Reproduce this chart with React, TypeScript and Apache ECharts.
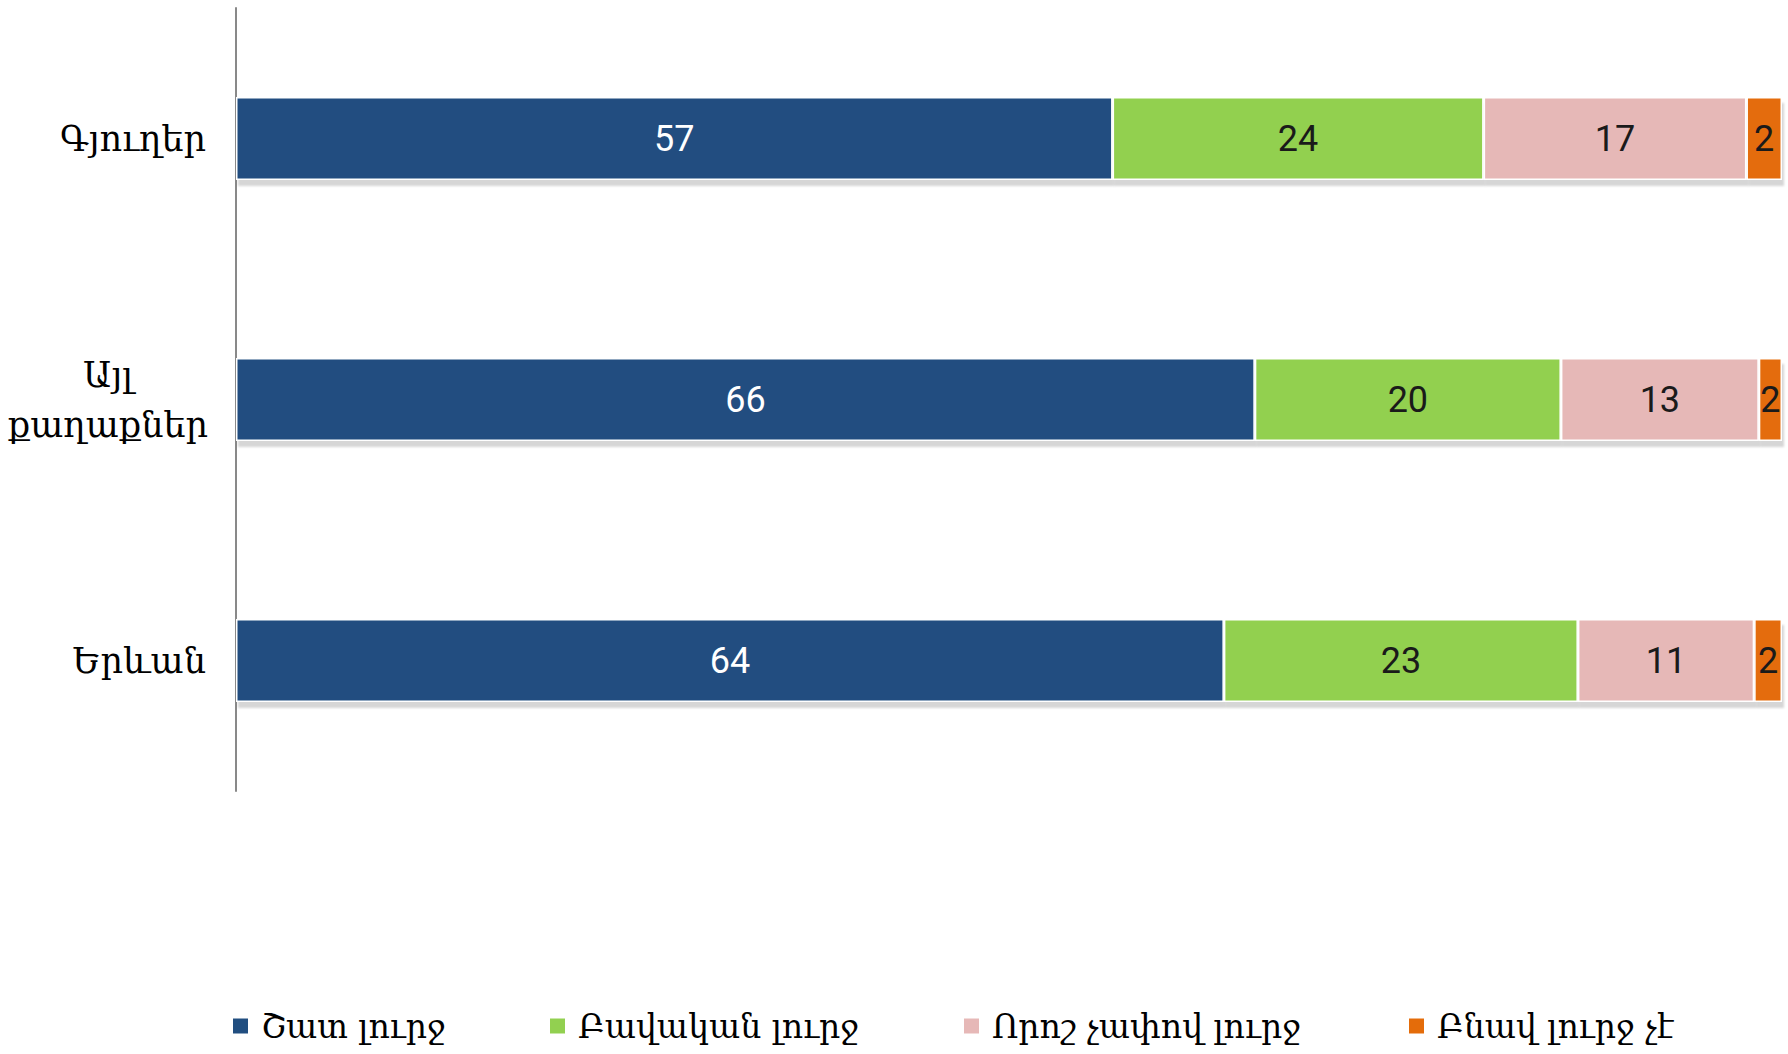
import React, { useEffect, useRef } from "react";
import * as echarts from "echarts";

const categories = ["Երևան", "Այլ\nքաղաքներ", "Գյուղեր"];
const seriesNames = ["Շատ լուրջ", "Բավական լուրջ", "Որոշ չափով լուրջ", "Բնավ լուրջ չէ"];
const veryMuch = [63.9, 65.9, 56.7];
const quite = [22.9, 19.8, 24.0];
const somewhat = [11.4, 12.8, 17.0];
const notAtAll = [1.8, 1.5, 2.3];
const colors = ["#214E80", "#92D050", "#E6B8B7", "#E46C0A"];
const labelColors = ["#ffffff", "#1a1a1a", "#1a1a1a", "#1a1a1a"];
const legendLeft = [231, 548, 962, 1407];

export default function App() {
  const ref = useRef<HTMLDivElement>(null);
  useEffect(() => {
    if (!ref.current) return;
    const chart = echarts.init(ref.current, undefined, { renderer: "svg" });
    const values = [veryMuch, quite, somewhat, notAtAll];
    const catData = categories.map((c) =>
      c.includes("\n")
        ? { value: c, textStyle: { align: "center", padding: [0, 196, 0, 0] } }
        : { value: c }
    );
    chart.setOption({
      animation: false,
      backgroundColor: "#ffffff",
      grid: { left: 236, right: 6, top: 8, bottom: 263, containLabel: false },
      xAxis: {
        type: "value",
        min: 0,
        max: 100,
        show: false,
      },
      yAxis: {
        type: "category",
        data: catData,
        axisLine: { show: true, lineStyle: { color: "#898989", width: 2 } },
        axisTick: { show: false },
        splitLine: { show: false },
        axisLabel: {
          fontFamily: "DejaVu Serif",
          fontSize: 35,
          color: "#000000",
          margin: 30,
          lineHeight: 50,
          align: "right",
        },
      },
      legend: seriesNames.map((n, i) => ({
        data: [n],
        left: legendLeft[i],
        top: 1006,
        padding: 0,
        itemWidth: 17,
        itemHeight: 17,
        icon: "rect",
        textStyle: {
          fontFamily: "DejaVu Serif",
          fontSize: 33,
          color: "#000000",
          lineHeight: 40,
          padding: [0, 0, 0, 7],
        },
      })),
      series: seriesNames.map((n, i) => ({
        name: n,
        type: "bar",
        stack: "total",
        barWidth: 83,
        data: values[i],
        itemStyle: {
          color: colors[i],
          borderColor: "#ffffff",
          borderWidth: 1.5,
          shadowColor: "rgba(0,0,0,0.16)",
          shadowBlur: 2,
          shadowOffsetX: 2,
          shadowOffsetY: 6,
        },
        label: {
          show: true,
          position: "inside",
          formatter: (p: any) => String(Math.round(p.value)),
          color: labelColors[i],
          fontFamily: "Roboto",
          fontSize: 36,
        },
      })),
    });
    return () => chart.dispose();
  }, []);
  return <div ref={ref} style={{ width: 1788, height: 1054, position: "absolute", left: 0, top: 0 }} />;
}
